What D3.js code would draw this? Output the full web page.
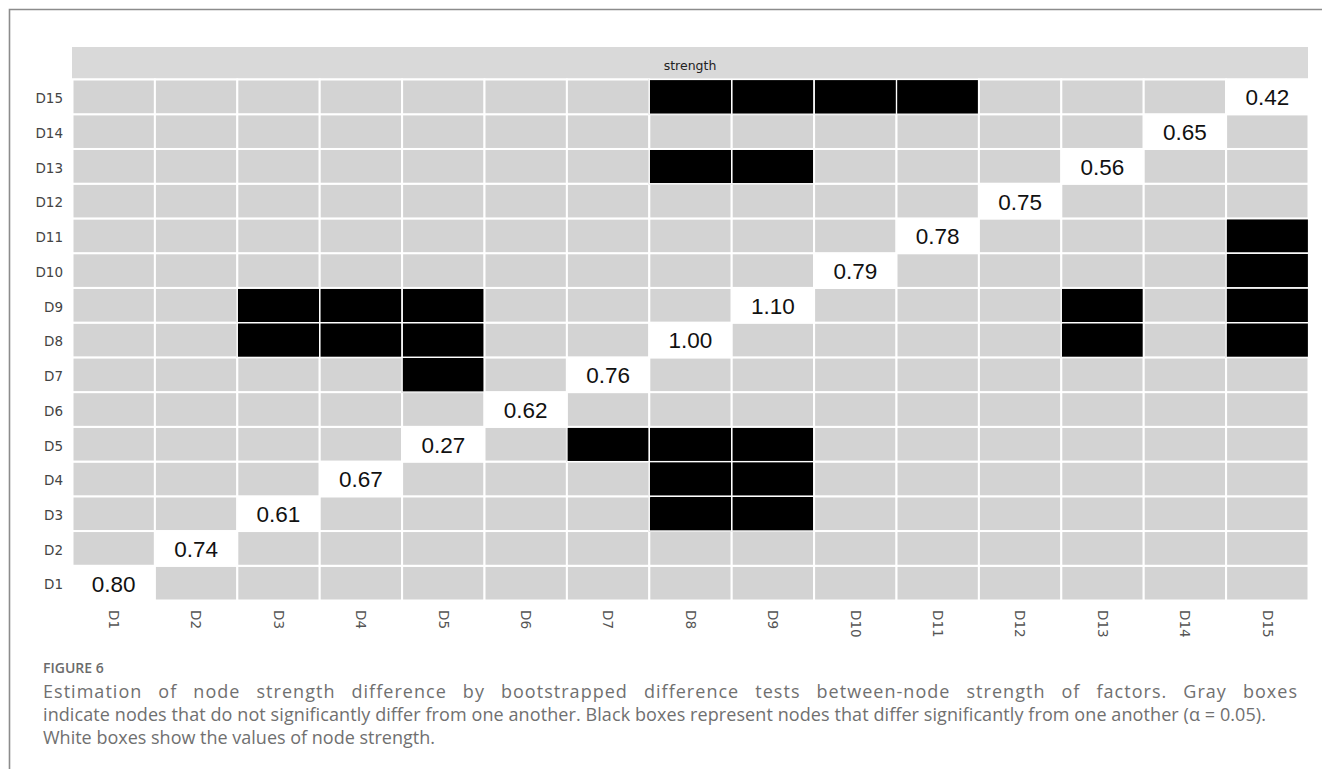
<!DOCTYPE html>
<html>
<head>
<meta charset="utf-8">
<script src="https://cdn.jsdelivr.net/npm/d3@7"></script>
<style>
  html, body { margin: 0; padding: 0; background: #fff; }
  svg { display: block; }
</style>
</head>
<body>
<svg id="chart" width="1322" height="769"></svg>
<script>
// ---- data ----
const nodes = ["D1","D2","D3","D4","D5","D6","D7","D8","D9","D10","D11","D12","D13","D14","D15"];
const strength = [0.80, 0.74, 0.61, 0.67, 0.27, 0.62, 0.76, 1.00, 1.10, 0.79, 0.78, 0.75, 0.56, 0.65, 0.42];
// pairs of nodes whose strength differs significantly (black boxes)
const sigPairs = [
  ["D3","D8"],["D3","D9"],["D4","D8"],["D4","D9"],
  ["D5","D7"],["D5","D8"],["D5","D9"],
  ["D8","D13"],["D8","D15"],["D9","D13"],["D9","D15"],
  ["D10","D15"],["D11","D15"]
];
const stripLabel = "strength";
const figureLabel = "FIGURE 6";
const captionLines = [
  "Estimation of node strength difference by bootstrapped difference tests between-node strength of factors. Gray boxes",
  "indicate nodes that do not significantly differ from one another. Black boxes represent nodes that differ significantly from one another (\u03B1 = 0.05).",
  "White boxes show the values of node strength."
];

// ---- build cells ----
const sigSet = new Set();
sigPairs.forEach(([a,b]) => { sigSet.add(a+"|"+b); sigSet.add(b+"|"+a); });
const cells = [];
nodes.forEach((r, i) => nodes.forEach((c, j) => {
  let type = "gray";
  if (i === j) type = "diag";
  else if (sigSet.has(r+"|"+c)) type = "sig";
  cells.push({row: r, col: c, type, value: i === j ? strength[i] : null});
}));

const svg = d3.select("#chart");

// frame
svg.append("path")
  .attr("d", "M9.5,769 L9.5,9.5 L1322,9.5")
  .attr("fill", "none").attr("stroke", "#8c8c8c").attr("stroke-width", 1.6);

const x = d3.scaleBand().domain(nodes).range([72.5, 1308.5]).padding(0);
const y = d3.scaleBand().domain(nodes.slice().reverse()).range([79.5, 600.5]).padding(0);

// strip
svg.append("rect")
  .attr("x", 72).attr("y", 47).attr("width", 1236).attr("height", 31.5)
  .attr("fill", "#d9d9d9");
svg.append("text")
  .attr("x", (72 + 1308) / 2).attr("y", 66)
  .attr("text-anchor", "middle").attr("dominant-baseline", "middle")
  .attr("font-family", "DejaVu Sans, sans-serif").attr("font-size", 12.5)
  .attr("fill", "#222").text(stripLabel);

// cells
const fillOf = t => t === "sig" ? "#000" : t === "diag" ? "#fff" : "#d3d3d3";
svg.append("g").selectAll("rect").data(cells).join("rect")
  .attr("x", d => x(d.col)).attr("y", d => y(d.row))
  .attr("width", x.bandwidth()).attr("height", y.bandwidth())
  .attr("fill", d => fillOf(d.type))
  .attr("stroke", d => d.type === "sig" ? "#9a9a9a" : "#fff")
  .attr("stroke-width", d => d.type === "sig" ? 1 : 2);
// white separators over black cells
svg.append("g").selectAll("rect").data(cells.filter(d => d.type === "sig")).join("rect")
  .attr("x", d => x(d.col)).attr("y", d => y(d.row))
  .attr("width", x.bandwidth()).attr("height", y.bandwidth())
  .attr("fill", "none").attr("stroke", "#fff").attr("stroke-width", 1.2);

// values
svg.append("g").selectAll("text").data(cells.filter(d => d.type === "diag")).join("text")
  .attr("x", d => x(d.col) + x.bandwidth() / 2)
  .attr("y", d => y(d.row) + y.bandwidth() / 2 + 2.5)
  .attr("text-anchor", "middle").attr("dominant-baseline", "middle")
  .attr("font-family", "Liberation Sans, Arial, sans-serif").attr("font-size", 22.5)
  .attr("fill", "#111")
  .text(d => d3.format(".2f")(d.value));

// y axis labels
const yAxis = svg.append("g").attr("transform", "translate(72,2)")
  .call(d3.axisLeft(y).tickSize(0).tickPadding(9));
yAxis.select(".domain").remove();
yAxis.selectAll("text")
  .attr("font-family", "DejaVu Sans, sans-serif").attr("font-size", 13.5).attr("fill", "#444");

// x axis labels (rotated)
const xAxis = svg.append("g").attr("transform", "translate(0,600)")
  .call(d3.axisBottom(x).tickSize(0));
xAxis.select(".domain").remove();
xAxis.selectAll("text")
  .attr("font-family", "DejaVu Sans, sans-serif").attr("font-size", 13.5).attr("fill", "#555")
  .attr("transform", "rotate(90)")
  .attr("x", 10).attr("y", 0).attr("dy", "0.35em")
  .attr("text-anchor", "start");

// caption
svg.append("text")
  .attr("x", 43).attr("y", 673)
  .attr("font-family", "Open Sans, sans-serif").attr("font-size", 14).attr("font-weight", 600)
  .attr("fill", "#6b6b6b").text(figureLabel);
const capWidths = [1254, 1223, null];
svg.append("g").selectAll("text").data(captionLines).join("text")
  .attr("x", 43).attr("y", (d, i) => 698 + i * 23)
  .attr("font-family", "Open Sans, sans-serif").attr("font-size", 18).attr("font-weight", 400)
  .attr("fill", "#707070")
  .text(d => d)
  .each(function(d, i) {
    const target = capWidths[i];
    if (!target) return;
    const natural = this.getComputedTextLength();
    const extra = target - natural;
    if (extra > 20) {
      const spaces = (d.match(/ /g) || []).length;
      d3.select(this)
        .attr("letter-spacing", (extra * 0.45 / (d.length - 1)).toFixed(2))
        .attr("word-spacing", (extra * 0.55 / spaces).toFixed(2));
    } else {
      d3.select(this).attr("textLength", target).attr("lengthAdjust", "spacing");
    }
  });
</script>
</body>
</html>
